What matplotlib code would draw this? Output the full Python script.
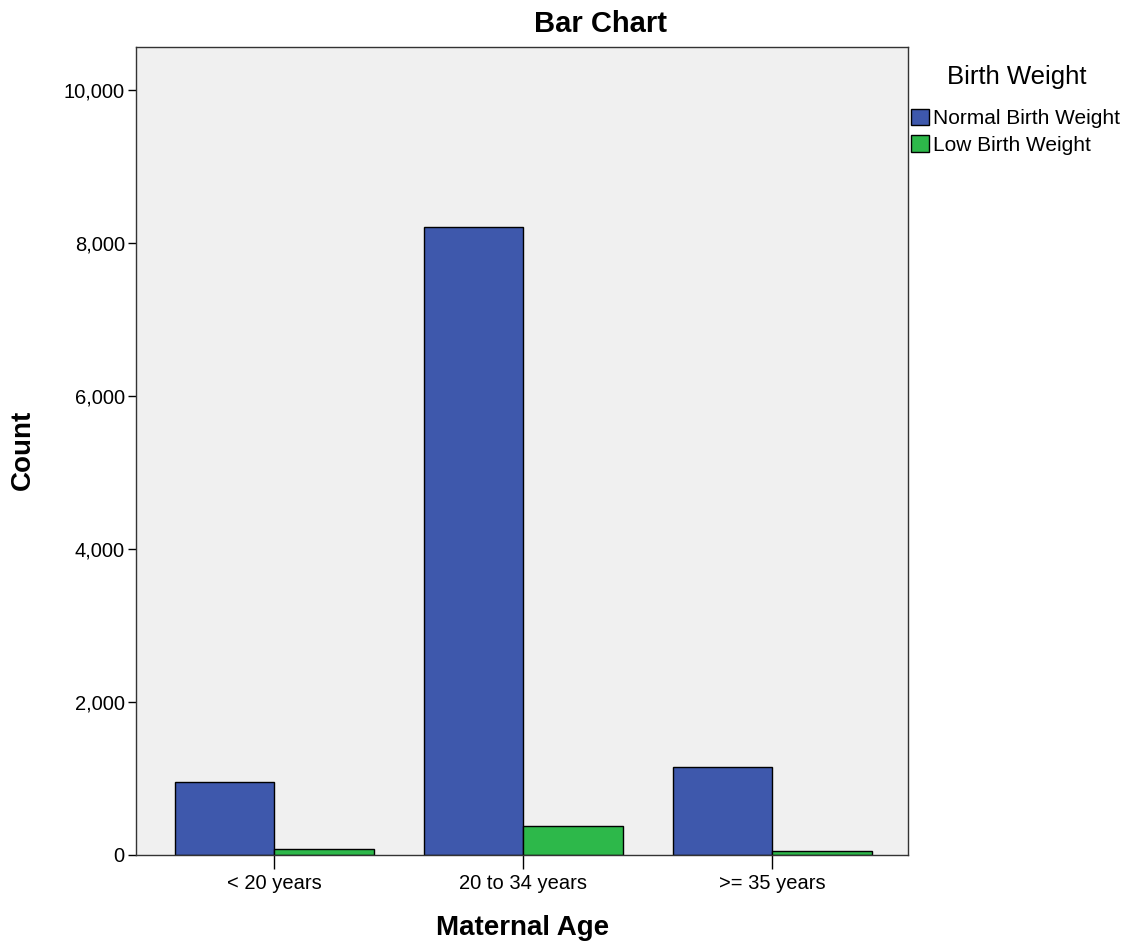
import matplotlib.pyplot as plt
import numpy as np
from matplotlib.ticker import FuncFormatter

plt.rcParams['font.family'] = ['Liberation Sans', 'DejaVu Sans']

# data
age_groups = ['< 20 years', '20 to 34 years', '>= 35 years']
normal_bw = [955, 8205, 1145]
low_bw = [82, 385, 52]
series_names = ['Normal Birth Weight', 'Low Birth Weight']
colors = ['#3e58ac', '#2db84a']

W, H = 1137, 946
fig = plt.figure(figsize=(W / 100, H / 100), dpi=100)
ax = fig.add_axes([0.1196, 0.0962, 0.6790, 0.8541])
ax.set_facecolor('#f0f0f0')

x = np.arange(len(age_groups))
w = 0.4
ax.bar(x - w / 2, normal_bw, w, color=colors[0], edgecolor='black', linewidth=1, label=series_names[0])
ax.bar(x + w / 2, low_bw, w, color=colors[1], edgecolor='black', linewidth=1, label=series_names[1])

ax.set_xlim(-0.555, 2.545)
ax.set_ylim(0, 10560)
ax.set_xticks(x)
ax.set_xticklabels(age_groups, fontsize=14.5)
ax.set_yticks([0, 2000, 4000, 6000, 8000, 10000])
ax.yaxis.set_major_formatter(FuncFormatter(lambda v, p: f'{int(v):,}'))
ax.tick_params(axis='y', labelsize=14.5, length=6, width=1, pad=2)
ax.tick_params(axis='x', length=10, width=1, pad=4)
for s in ax.spines.values():
    s.set_color('#333333')
    s.set_linewidth(1)

# title and axis titles placed like the reference
fig.text(600 / W, 1 - 24 / H, 'Bar Chart', fontsize=21, fontweight='bold', ha='center', va='center')
fig.text(523 / W, 1 - 928 / H, 'Maternal Age', fontsize=20, fontweight='bold', ha='center', va='center')
fig.text(23 / W, 1 - 450 / H, 'Count', fontsize=20, fontweight='bold', ha='center', va='center', rotation=90)

leg = fig.legend(loc='upper left', bbox_to_anchor=(909 / W, 1 - 63 / H), frameon=False,
                 title='Birth Weight', title_fontsize=18.5, fontsize=15,
                 handlelength=0.85, handleheight=0.85, handletextpad=0.2,
                 labelspacing=0.35, borderaxespad=0, borderpad=0.1)
leg._legend_box.align = 'left'
leg._legend_box.sep = 14
leg.get_title().set_position((36, 0))

fig.savefig('out.png', dpi=100)
